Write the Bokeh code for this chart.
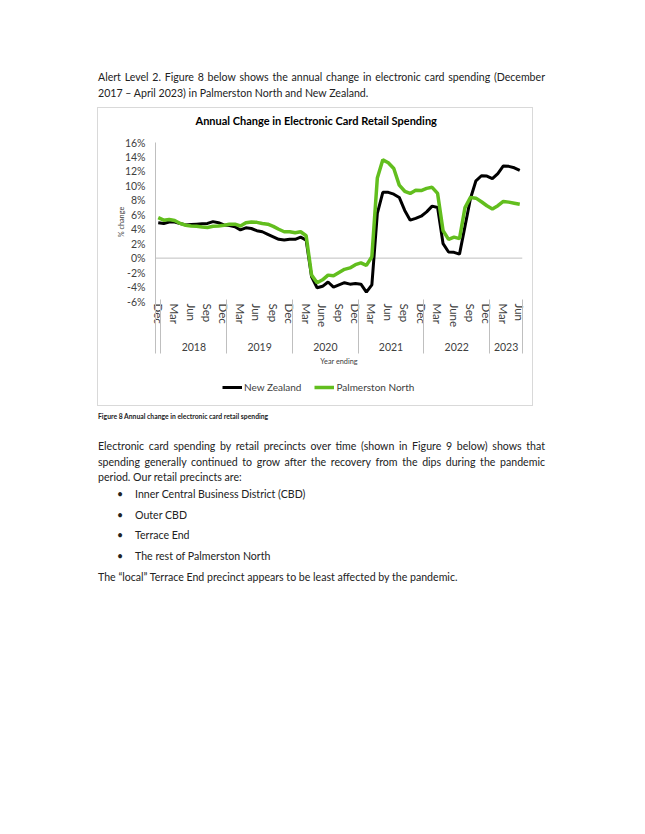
from bokeh.plotting import figure
from bokeh.models import Range1d, LinearAxis, FixedTicker, Span, Legend, Div, Spacer
from bokeh.layouts import column, row
from bokeh.embed import file_html
from bokeh.resources import INLINE

# ---------------- data ----------------
months = (["Dec"]
          + ["Jan", "Feb", "Mar", "Apr", "May", "Jun", "Jul", "Aug", "Sep", "Oct", "Nov", "Dec"] * 5
          + ["Jan", "Feb", "Mar", "Apr", "May", "Jun"])
years = (["2017"] + ["2018"] * 12 + ["2019"] * 12 + ["2020"] * 12
         + ["2021"] * 12 + ["2022"] * 12 + ["2023"] * 6)

month_tick_labels = ["Dec", "Mar", "Jun", "Sep",
                     "Dec", "Mar", "Jun", "Sep",
                     "Dec", "Mar", "June", "Sep",
                     "Dec", "Mar", "Jun", "Sep",
                     "Dec", "Mar", "June", "Sep",
                     "Dec", "Mar", "Jun"]
year_labels = ["2018", "2019", "2020", "2021", "2022", "2023"]
y_ticks = [-6, -4, -2, 0, 2, 4, 6, 8, 10, 12, 14, 16]
series_names = ["New Zealand", "Palmerston North"]

new_zealand = [4.9, 4.8, 5.0, 5.0, 4.8, 4.6, 4.65, 4.7, 4.75, 4.8, 5.05, 4.9,
               4.6, 4.5, 4.35, 3.9, 4.2, 4.1, 3.8, 3.65, 3.3, 2.95, 2.6, 2.5,
               2.6, 2.6, 2.9, 2.5, -2.6, -4.1, -3.9, -3.3, -4.0, -3.7, -3.4, -3.6,
               -3.5, -3.6, -4.7, -3.7, 6.2, 9.1, 9.1, 8.85, 8.4, 6.6, 5.25, 5.5,
               5.8, 6.4, 7.2, 7.0, 2.0, 0.85, 0.8, 0.55, 4.4, 8.25, 10.7, 11.4,
               11.35, 11.0, 11.7, 12.75, 12.7, 12.5, 12.15]
palmerston_north = [5.6, 5.25, 5.35, 5.2, 4.8, 4.55, 4.45, 4.4, 4.3, 4.25, 4.4, 4.45,
                    4.55, 4.7, 4.7, 4.45, 4.9, 5.0, 4.95, 4.8, 4.7, 4.4, 4.0, 3.65,
                    3.65, 3.5, 3.65, 3.1, -2.35, -3.4, -3.0, -2.35, -2.45, -2.0, -1.55, -1.35,
                    -0.9, -0.65, -1.0, 0.2, 11.1, 13.6, 13.2, 12.4, 10.1, 9.25, 8.95, 9.4,
                    9.35, 9.65, 9.8, 8.95, 3.8, 2.6, 2.9, 2.7, 7.0, 8.4, 8.3, 7.8,
                    7.25, 6.8, 7.25, 7.85, 7.75, 7.6, 7.45]

# ---------------- derived positions ----------------
x = list(range(len(months)))
month_tick_idx = [i for i, m in enumerate(months) if m in ("Dec", "Mar", "Jun", "Sep")]
group_bounds = [-0.5] + [i + 0.5 for i in range(len(years) - 1) if years[i] != years[i + 1]] + [len(years) - 0.5]
year_centers = []
for y in year_labels:
    idx = [i for i, yy in enumerate(years) if yy == y]
    year_centers.append((idx[0] + idx[-1]) / 2)

FONT = "Lato"
NZ_COLOR = "#000000"
PN_COLOR = "#62BE1E"
GRID_GREY = "#BFBFBF"
TEXT_GREY = "#404040"

# ---------------- main chart ----------------
p = figure(width=434, height=271,
           x_range=Range1d(-0.5, len(months) - 0.5), y_range=Range1d(-6, 16),
           x_axis_type=None, y_axis_type=None,
           output_backend="svg", toolbar_location=None,
           min_border_left=57, min_border_right=10, min_border_top=34, min_border_bottom=78,
           title="Annual Change in Electronic Card Retail Spending")
p.outline_line_color = None
p.background_fill_color = "white"
p.border_fill_color = "white"

p.title.align = "left"
p.title.offset = 40
p.title.standoff = 3
p.title.text_font = FONT
p.title.text_font_size = "11px"
p.title.text_font_style = "bold"
p.title.text_color = "#000000"

# empty gap between the title and the plot area (invisible ticks only)
gap_axis = LinearAxis(ticker=FixedTicker(ticks=[year_centers[0]]),
                      major_label_overrides={year_centers[0]: ""},
                      axis_line_color=None,
                      major_tick_out=14, major_tick_in=0, major_tick_line_color=None,
                      minor_tick_out=0, minor_tick_in=0,
                      major_label_standoff=0, major_label_text_font_size="0px")
p.add_layout(gap_axis, "above")

yaxis = LinearAxis(ticker=FixedTicker(ticks=y_ticks),
                   major_label_overrides={v: f"{v}%" for v in y_ticks},
                   axis_line_color=GRID_GREY,
                   major_tick_out=0, major_tick_in=0, minor_tick_out=0, minor_tick_in=0,
                   major_label_standoff=10,
                   major_label_text_font=FONT, major_label_text_font_size="10.5px",
                   major_label_text_color=TEXT_GREY,
                   axis_label="% change", axis_label_text_font=FONT,
                   axis_label_text_font_size="7.3px", axis_label_text_font_style="normal",
                   axis_label_text_color=TEXT_GREY, axis_label_standoff=-4)
p.add_layout(yaxis, "left")

# month labels
xaxis1 = LinearAxis(ticker=FixedTicker(ticks=month_tick_idx),
                    major_label_overrides={i: lab for i, lab in zip(month_tick_idx, month_tick_labels)},
                    major_label_orientation="vertical",
                    axis_line_color=None,
                    major_tick_out=0, major_tick_in=0, minor_tick_out=0, minor_tick_in=0,
                    major_label_standoff=2,
                    major_label_text_font=FONT, major_label_text_font_size="11.5px",
                    major_label_text_color=TEXT_GREY)
p.add_layout(xaxis1, "below")

# year labels
xaxis2 = LinearAxis(ticker=FixedTicker(ticks=year_centers),
                    major_label_overrides={c: y for c, y in zip(year_centers, year_labels)},
                    axis_line_color=None,
                    major_tick_out=0, major_tick_in=0, minor_tick_out=0, minor_tick_in=0,
                    major_label_standoff=12,
                    major_label_text_font=FONT, major_label_text_font_size="10.5px",
                    major_label_text_color=TEXT_GREY)
p.add_layout(xaxis2, "below")

# year-group separators (ticks pointing up to the plot) and axis title
xaxis3 = LinearAxis(ticker=FixedTicker(ticks=group_bounds),
                    major_label_overrides={b: "" for b in group_bounds},
                    axis_line_color=None,
                    major_tick_out=0, major_tick_in=54, minor_tick_out=0, minor_tick_in=0,
                    major_tick_line_color=GRID_GREY,
                    major_label_standoff=0, major_label_text_font_size="0px",
                    axis_label="Year ending", axis_label_text_font=FONT,
                    axis_label_text_font_size="7.3px", axis_label_text_font_style="normal",
                    axis_label_text_color=TEXT_GREY, axis_label_standoff=3)
p.add_layout(xaxis3, "below")

zero = Span(location=0, dimension="width", line_color=GRID_GREY, line_width=1, level="underlay")
p.add_layout(zero)

p.line(x, new_zealand, line_color=NZ_COLOR, line_width=3)
p.line(x, palmerston_north, line_color=PN_COLOR, line_width=3.5)

# ---------------- legend strip (bottom of the chart box) ----------------
# same series, drawn outside this strip's visible range; only the legend shows
lg = figure(width=434, height=26, x_range=Range1d(-0.5, len(months) - 0.5), y_range=Range1d(100, 101),
            x_axis_type=None, y_axis_type=None,
            output_backend="svg", toolbar_location=None,
            min_border_left=0, min_border_right=0, min_border_top=0, min_border_bottom=0)
lg.outline_line_color = None
lg.background_fill_color = "white"
lg.border_fill_color = "white"
k_nz = lg.line(x, new_zealand, line_color=NZ_COLOR, line_width=3)
k_pn = lg.line(x, palmerston_north, line_color=PN_COLOR, line_width=3.5)
legend = Legend(items=[(series_names[0], [k_nz]), (series_names[1], [k_pn])],
                orientation="horizontal", location=(67, 12),
                border_line_color=None, background_fill_alpha=0,
                label_text_font=FONT, label_text_font_size="10px", label_text_color=TEXT_GREY,
                glyph_width=20, glyph_height=12, label_height=12, label_standoff=2,
                spacing=13, padding=0, margin=0)
lg.add_layout(legend, "center")

chart_box = column(p, lg, styles={"border": "1px solid #D9D9D9"})

# ---------------- surrounding page text ----------------
TXT = "font-family:Lato;font-size:10.6px;color:#222222;"


def line(top, left, width, text, justify=False, extra=""):
    j = "text-align:justify;text-align-last:justify;" if justify else ""
    return (f'<div style="position:absolute;left:{left}px;top:{top}px;width:{width}px;'
            f'line-height:16px;{j}{extra}">{text}</div>')


L0 = 93
top_html = ('<div style="position:relative;width:629px;height:97px;' + TXT + '">'
            + line(64, L0, 447, "Alert Level 2. Figure 8 below shows the annual change in electronic card spending (December", True)
            + line(80, L0, 447, "2017 \u2013 April 2023) in Palmerston North and New Zealand.")
            + '</div>')

bullets = ["Inner Central Business District (CBD)", "Outer CBD", "Terrace End", "The rest of Palmerston North"]
bottom_parts = ['<div style="position:relative;width:629px;height:200px;' + TXT + '">',
                f'<div style="position:absolute;left:{L0}px;top:0px;line-height:10px;font-size:6.8px;font-weight:bold;">'
                'Figure 8 Annual change in electronic card retail spending</div>',
                line(27, L0, 447, "Electronic card spending by retail precincts over time (shown in Figure 9 below) shows that", True),
                line(42.5, L0, 447, "spending generally continued to grow after the recovery from the dips during the pandemic", True),
                line(58, L0, 447, "period. Our retail precincts are:")]
for k, b in enumerate(bullets):
    t = 75 + k * 20.7
    bottom_parts.append(line(t, 112, 12, "\u2022"))
    bottom_parts.append(line(t, 130, 400, b))
bottom_parts.append(line(157.5, L0, 447, "The \u201clocal\u201d Terrace End precinct appears to be least affected by the pandemic."))
bottom_parts.append('</div>')

top_div = Div(text=top_html, width=629, height=97)
bottom_div = Div(text="".join(bottom_parts), width=629, height=200)

layout = column(top_div, row(Spacer(width=97, height=297), chart_box), bottom_div)

open("out.html", "w").write(file_html(layout, INLINE))
